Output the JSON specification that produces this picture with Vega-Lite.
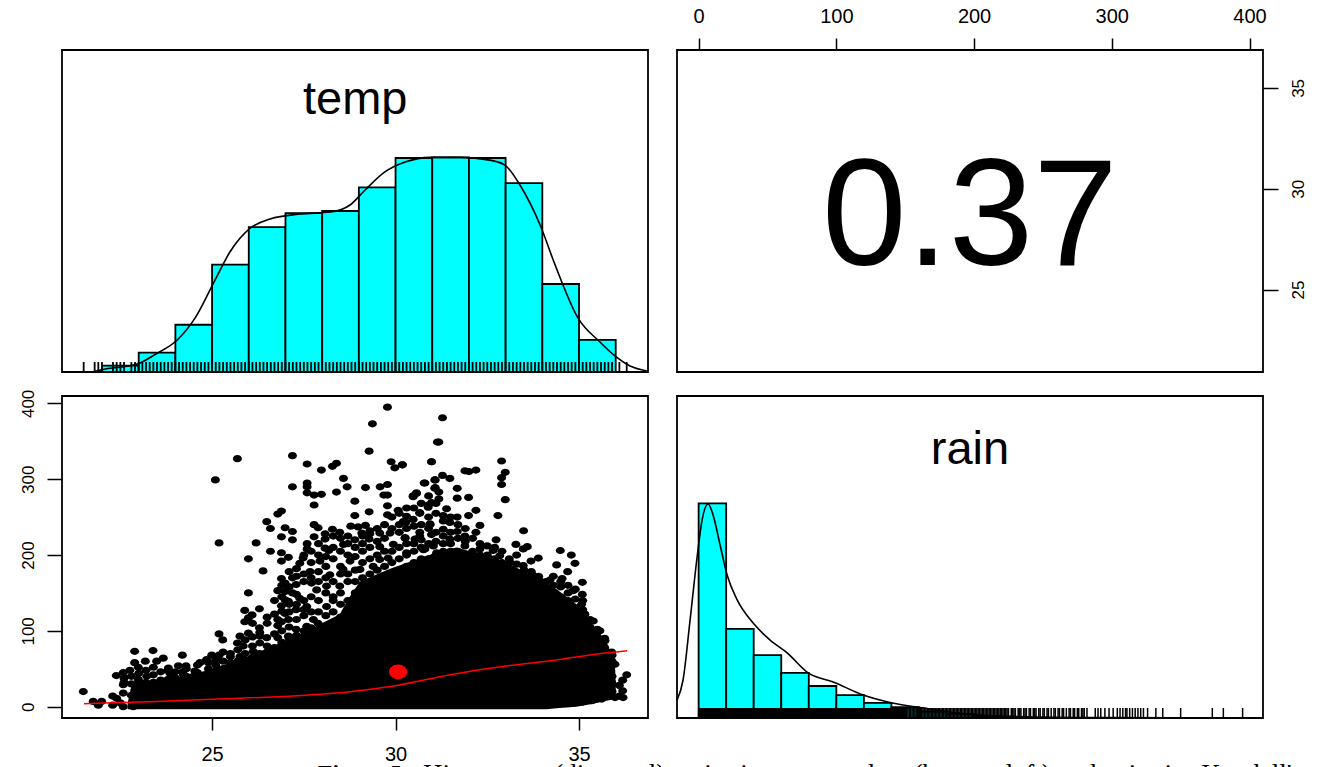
{
"$schema":"https://vega.github.io/schema/vega-lite/v6.json",
"background":"white",
"padding":{"left":18,"top":5,"right":0,"bottom":0},
"columns":2,
"bounds":"flush",
"spacing":{"column":29,"row":24},
"config":{"view":{"stroke":"#000","strokeWidth":1.8,"continuousWidth":586,"continuousHeight":322},
"axis":{"grid":false,"domain":false,"title":null,"labelFont":"Liberation Sans","labelColor":"#000","tickColor":"#000","tickWidth":1.5,"labelFontSize":20,"labelOverlap":false,"labelFlush":false}},
"datasets":{
"tempHist":[{"a":22,"b":23,"h":0.03},{"a":23,"b":24,"h":0.09},{"a":24,"b":25,"h":0.22},{"a":25,"b":26,"h":0.5},{"a":26,"b":27,"h":0.675},{"a":27,"b":28,"h":0.74},{"a":28,"b":29,"h":0.75},{"a":29,"b":30,"h":0.86},{"a":30,"b":31,"h":0.997},{"a":31,"b":32,"h":1.0},{"a":32,"b":33,"h":0.997},{"a":33,"b":34,"h":0.88},{"a":34,"b":35,"h":0.41},{"a":35,"b":36,"h":0.15}],
"tempDens":[{"t":21.8,"d":0.002},{"t":21.98,"d":0.01},{"t":22.96,"d":0.037},{"t":23.47,"d":0.084},{"t":24.05,"d":0.149},{"t":24.54,"d":0.252},{"t":25.08,"d":0.428},{"t":25.49,"d":0.56},{"t":26.04,"d":0.67},{"t":26.58,"d":0.713},{"t":27.4,"d":0.736},{"t":28.22,"d":0.745},{"t":28.76,"d":0.778},{"t":29.17,"d":0.848},{"t":29.71,"d":0.932},{"t":30.26,"d":0.978},{"t":30.94,"d":1.0},{"t":31.76,"d":1.0},{"t":32.57,"d":0.987},{"t":32.98,"d":0.964},{"t":33.39,"d":0.871},{"t":33.94,"d":0.685},{"t":34.35,"d":0.498},{"t":34.97,"d":0.252},{"t":35.57,"d":0.14},{"t":35.98,"d":0.075},{"t":36.39,"d":0.028},{"t":36.85,"d":0.005}],
"tempRug":[{"t":21.5},{"t":21.8},{"t":21.9},{"t":22.0},{"t":22.3},{"t":22.4},{"t":22.5},{"t":22.6},{"t":22.8},{"t":22.9},{"t":23.0},{"t":23.1},{"t":23.2},{"t":23.3},{"t":23.4},{"t":23.5},{"t":23.6},{"t":23.7},{"t":23.8},{"t":23.9},{"t":24.0},{"t":24.1},{"t":24.2},{"t":24.3},{"t":24.4},{"t":24.5},{"t":24.6},{"t":24.7},{"t":24.8},{"t":24.9},{"t":25.0},{"t":25.1},{"t":25.2},{"t":25.3},{"t":25.4},{"t":25.5},{"t":25.6},{"t":25.7},{"t":25.8},{"t":25.9},{"t":26.0},{"t":26.1},{"t":26.2},{"t":26.3},{"t":26.4},{"t":26.5},{"t":26.6},{"t":26.7},{"t":26.8},{"t":26.9},{"t":27.0},{"t":27.1},{"t":27.2},{"t":27.3},{"t":27.4},{"t":27.5},{"t":27.6},{"t":27.7},{"t":27.8},{"t":27.9},{"t":28.0},{"t":28.1},{"t":28.2},{"t":28.3},{"t":28.4},{"t":28.5},{"t":28.6},{"t":28.7},{"t":28.8},{"t":28.9},{"t":29.0},{"t":29.1},{"t":29.2},{"t":29.3},{"t":29.4},{"t":29.5},{"t":29.6},{"t":29.7},{"t":29.8},{"t":29.9},{"t":30.0},{"t":30.1},{"t":30.2},{"t":30.3},{"t":30.4},{"t":30.5},{"t":30.6},{"t":30.7},{"t":30.8},{"t":30.9},{"t":31.0},{"t":31.1},{"t":31.2},{"t":31.3},{"t":31.4},{"t":31.5},{"t":31.6},{"t":31.7},{"t":31.8},{"t":31.9},{"t":32.0},{"t":32.1},{"t":32.2},{"t":32.3},{"t":32.4},{"t":32.5},{"t":32.6},{"t":32.7},{"t":32.8},{"t":32.9},{"t":33.0},{"t":33.1},{"t":33.2},{"t":33.3},{"t":33.4},{"t":33.5},{"t":33.6},{"t":33.7},{"t":33.8},{"t":33.9},{"t":34.0},{"t":34.1},{"t":34.2},{"t":34.3},{"t":34.4},{"t":34.5},{"t":34.6},{"t":34.7},{"t":34.8},{"t":34.9},{"t":35.0},{"t":35.1},{"t":35.2},{"t":35.3},{"t":35.4},{"t":35.5},{"t":35.6},{"t":35.7},{"t":35.8},{"t":35.9},{"t":36.1},{"t":36.3}],
"rainHist":[{"a":0,"b":20,"h":1.0},{"a":20,"b":40,"h":0.415},{"a":40,"b":60,"h":0.293},{"a":60,"b":80,"h":0.21},{"a":80,"b":100,"h":0.149},{"a":100,"b":120,"h":0.107},{"a":120,"b":140,"h":0.07},{"a":140,"b":160,"h":0.05},{"a":160,"b":180,"h":0.03},{"a":180,"b":200,"h":0.018},{"a":200,"b":220,"h":0.01}],
"rainDens":[{"r":-15.6,"d":0.084},{"r":-11.3,"d":0.177},{"r":-6.2,"d":0.456},{"r":-1.1,"d":0.75},{"r":2.5,"d":0.922},{"r":6.9,"d":0.997},{"r":10.5,"d":0.946},{"r":15.6,"d":0.806},{"r":20.7,"d":0.666},{"r":28,"d":0.55},{"r":39.6,"d":0.442},{"r":51.9,"d":0.363},{"r":64.3,"d":0.303},{"r":79.5,"d":0.21},{"r":97.7,"d":0.168},{"r":119.5,"d":0.107},{"r":140.5,"d":0.07},{"r":163,"d":0.047},{"r":190,"d":0.023},{"r":219,"d":0.009},{"r":292,"d":0.002},{"r":409,"d":0}],
"rainRug":[{"r":0},{"r":0.5},{"r":1},{"r":1.5},{"r":2},{"r":2.5},{"r":3},{"r":3.5},{"r":4},{"r":4.5},{"r":5},{"r":5.5},{"r":6},{"r":6.5},{"r":7},{"r":7.5},{"r":8},{"r":8.5},{"r":9},{"r":9.5},{"r":10},{"r":10.5},{"r":11},{"r":11.5},{"r":12},{"r":12.5},{"r":13},{"r":13.5},{"r":14},{"r":14.5},{"r":15},{"r":15.5},{"r":16},{"r":16.5},{"r":17},{"r":17.5},{"r":18},{"r":18.5},{"r":19},{"r":19.5},{"r":20},{"r":20.5},{"r":21},{"r":21.5},{"r":22},{"r":22.5},{"r":23},{"r":23.5},{"r":24},{"r":24.5},{"r":25},{"r":25.5},{"r":26},{"r":26.5},{"r":27},{"r":27.5},{"r":28},{"r":28.5},{"r":29},{"r":29.5},{"r":30},{"r":30.5},{"r":31},{"r":31.5},{"r":32},{"r":32.5},{"r":33},{"r":33.5},{"r":34},{"r":34.5},{"r":35},{"r":35.5},{"r":36},{"r":36.5},{"r":37},{"r":37.5},{"r":38},{"r":38.5},{"r":39},{"r":39.5},{"r":40},{"r":40.5},{"r":41},{"r":41.5},{"r":42},{"r":42.5},{"r":43},{"r":43.5},{"r":44},{"r":44.5},{"r":45},{"r":45.5},{"r":46},{"r":46.5},{"r":47},{"r":47.5},{"r":48},{"r":48.5},{"r":49},{"r":49.5},{"r":50},{"r":50.5},{"r":51},{"r":51.5},{"r":52},{"r":52.5},{"r":53},{"r":53.5},{"r":54},{"r":54.5},{"r":55},{"r":55.5},{"r":56},{"r":56.5},{"r":57},{"r":57.5},{"r":58},{"r":58.5},{"r":59},{"r":59.5},{"r":60},{"r":60.5},{"r":61},{"r":61.5},{"r":62},{"r":62.5},{"r":63},{"r":63.5},{"r":64},{"r":64.5},{"r":65},{"r":65.5},{"r":66},{"r":66.5},{"r":67},{"r":67.5},{"r":68},{"r":68.5},{"r":69},{"r":69.5},{"r":70},{"r":70.5},{"r":71},{"r":71.5},{"r":72},{"r":72.5},{"r":73},{"r":73.5},{"r":74},{"r":74.5},{"r":75},{"r":75.5},{"r":76},{"r":76.5},{"r":77},{"r":77.5},{"r":78},{"r":78.5},{"r":79},{"r":79.5},{"r":80},{"r":80.5},{"r":81},{"r":81.5},{"r":82},{"r":82.5},{"r":83},{"r":83.5},{"r":84},{"r":84.5},{"r":85},{"r":85.5},{"r":86},{"r":86.5},{"r":87},{"r":87.5},{"r":88},{"r":88.5},{"r":89},{"r":89.5},{"r":90},{"r":90.5},{"r":91},{"r":91.5},{"r":92},{"r":92.5},{"r":93},{"r":93.5},{"r":94},{"r":94.5},{"r":95},{"r":95.5},{"r":96},{"r":96.5},{"r":97},{"r":97.5},{"r":98},{"r":98.5},{"r":99},{"r":99.5},{"r":100},{"r":100.5},{"r":101},{"r":101.5},{"r":102},{"r":102.5},{"r":103},{"r":103.5},{"r":104},{"r":104.5},{"r":105},{"r":105.5},{"r":106},{"r":106.5},{"r":107},{"r":107.5},{"r":108},{"r":108.5},{"r":109},{"r":109.5},{"r":110},{"r":110.5},{"r":111},{"r":111.5},{"r":112},{"r":112.5},{"r":113},{"r":113.5},{"r":114},{"r":114.5},{"r":115},{"r":115.5},{"r":116},{"r":116.5},{"r":117},{"r":117.5},{"r":118},{"r":118.5},{"r":119},{"r":119.5},{"r":120},{"r":120.5},{"r":121},{"r":121.5},{"r":122},{"r":122.5},{"r":123},{"r":123.5},{"r":124},{"r":124.5},{"r":125},{"r":125.5},{"r":126},{"r":126.5},{"r":127},{"r":127.5},{"r":128},{"r":128.5},{"r":129},{"r":129.5},{"r":130},{"r":130.5},{"r":131},{"r":131.5},{"r":132},{"r":132.5},{"r":133},{"r":133.5},{"r":134},{"r":134.5},{"r":135},{"r":135.5},{"r":136},{"r":136.5},{"r":137},{"r":137.5},{"r":138},{"r":138.5},{"r":139},{"r":139.5},{"r":140},{"r":140.5},{"r":141},{"r":141.5},{"r":142},{"r":142.5},{"r":143},{"r":143.5},{"r":144},{"r":144.5},{"r":145},{"r":145.5},{"r":146},{"r":146.5},{"r":147},{"r":147.5},{"r":148},{"r":148.5},{"r":149},{"r":149.5},{"r":150},{"r":151},{"r":152},{"r":153},{"r":154},{"r":155},{"r":156},{"r":157},{"r":158},{"r":159},{"r":160},{"r":161},{"r":162},{"r":163},{"r":164},{"r":165},{"r":166},{"r":167},{"r":168},{"r":169},{"r":170},{"r":171},{"r":172},{"r":173},{"r":174},{"r":175},{"r":176},{"r":177},{"r":178},{"r":179},{"r":180},{"r":181},{"r":182},{"r":183},{"r":184},{"r":185},{"r":186},{"r":187},{"r":188},{"r":189},{"r":190},{"r":191},{"r":192},{"r":193},{"r":194},{"r":195},{"r":196},{"r":197},{"r":198},{"r":199},{"r":200},{"r":201},{"r":202},{"r":203},{"r":204},{"r":205},{"r":206},{"r":207},{"r":208},{"r":209},{"r":210},{"r":211},{"r":212},{"r":213},{"r":214},{"r":215},{"r":216},{"r":217},{"r":218},{"r":219},{"r":220},{"r":221},{"r":222},{"r":223},{"r":224},{"r":225},{"r":227},{"r":228},{"r":229},{"r":230},{"r":232},{"r":233},{"r":234},{"r":236},{"r":237},{"r":238},{"r":240},{"r":241},{"r":243},{"r":244},{"r":245},{"r":247},{"r":248},{"r":250},{"r":251},{"r":253},{"r":254},{"r":256},{"r":258},{"r":259},{"r":261},{"r":262},{"r":264},{"r":265},{"r":267},{"r":269},{"r":270},{"r":272},{"r":273},{"r":275},{"r":276},{"r":278},{"r":279},{"r":280},{"r":282},{"r":288},{"r":290},{"r":292},{"r":295},{"r":298},{"r":301},{"r":304},{"r":306},{"r":308},{"r":310},{"r":311},{"r":313},{"r":315},{"r":317},{"r":319},{"r":321},{"r":323},{"r":326},{"r":332},{"r":337},{"r":350},{"r":373},{"r":381},{"r":395}],
"points":[{"t":29.78,"r":395},{"t":29.37,"r":373},{"t":25.69,"r":327},{"t":25.09,"r":299},{"t":25.19,"r":216},{"t":27.19,"r":331},{"t":27.59,"r":320},{"t":27.98,"r":312},{"t":28.28,"r":317},{"t":28.39,"r":321},{"t":29.28,"r":337},{"t":29.88,"r":323},{"t":29.98,"r":315},{"t":30.18,"r":319},{"t":30.98,"r":323},{"t":31.14,"r":349},{"t":28.58,"r":301},{"t":27.19,"r":290},{"t":27.59,"r":295},{"t":27.59,"r":290},{"t":27.59,"r":282},{"t":27.78,"r":279},{"t":27.98,"r":280},{"t":28.39,"r":283},{"t":28.68,"r":290},{"t":29.18,"r":289},{"t":29.58,"r":290},{"t":29.78,"r":293},{"t":29.68,"r":279},{"t":29.78,"r":279},{"t":29.78,"r":265},{"t":29.78,"r":253},{"t":28.89,"r":271},{"t":28.89,"r":252},{"t":29.28,"r":257},{"t":27.78,"r":266},{"t":26.89,"r":258},{"t":26.79,"r":254},{"t":26.49,"r":244},{"t":26.59,"r":235},{"t":26.99,"r":236},{"t":27.19,"r":231},{"t":26.89,"r":224},{"t":27.19,"r":220},{"t":27.78,"r":240},{"t":27.89,"r":236},{"t":27.78,"r":224},{"t":28.08,"r":228},{"t":28.08,"r":221},{"t":28.28,"r":234},{"t":28.48,"r":230},{"t":28.78,"r":238},{"t":28.98,"r":237},{"t":29.18,"r":239},{"t":29.08,"r":229},{"t":28.89,"r":220},{"t":29.28,"r":221},{"t":28.58,"r":214},{"t":28.08,"r":209},{"t":28.18,"r":206},{"t":27.59,"r":215},{"t":27.59,"r":208},{"t":26.2,"r":216},{"t":26.59,"r":205},{"t":26.89,"r":203},{"t":27.08,"r":197},{"t":26.89,"r":192},{"t":27.48,"r":196},{"t":27.39,"r":189},{"t":25.99,"r":195},{"t":26.39,"r":179},{"t":25.99,"r":150},{"t":26.29,"r":129},{"t":25.89,"r":127},{"t":26.09,"r":121},{"t":25.89,"r":112},{"t":25.99,"r":117},{"t":25.19,"r":96},{"t":25.29,"r":88},{"t":26.89,"r":169},{"t":26.99,"r":163},{"t":27.19,"r":170},{"t":27.29,"r":161},{"t":26.79,"r":153},{"t":26.99,"r":152},{"t":27.19,"r":150},{"t":27.39,"r":143},{"t":26.99,"r":141},{"t":27.08,"r":139},{"t":26.89,"r":133},{"t":27.29,"r":128},{"t":27.58,"r":132},{"t":26.99,"r":123},{"t":26.79,"r":115},{"t":26.89,"r":112},{"t":26.79,"r":107},{"t":27.08,"r":115},{"t":26.29,"r":104},{"t":25.99,"r":97},{"t":25.76,"r":93},{"t":26.49,"r":91},{"t":26.3,"r":93},{"t":25.69,"r":84},{"t":25.85,"r":80},{"t":26.79,"r":91},{"t":27.08,"r":93},{"t":27.29,"r":102},{"t":27.29,"r":86},{"t":27.58,"r":106},{"t":27.76,"r":115},{"t":27.89,"r":110},{"t":27.58,"r":93},{"t":27.85,"r":95},{"t":28.12,"r":132},{"t":28.3,"r":145},{"t":28.48,"r":159},{"t":28.12,"r":159},{"t":27.85,"r":154},{"t":27.71,"r":163},{"t":27.67,"r":178},{"t":27.94,"r":192},{"t":28.21,"r":174},{"t":28.57,"r":181},{"t":28.76,"r":192},{"t":29.03,"r":181},{"t":29.39,"r":185},{"t":29.57,"r":194},{"t":29.8,"r":196},{"t":29.94,"r":214},{"t":30.26,"r":222},{"t":29.57,"r":211},{"t":29.57,"r":229},{"t":29.85,"r":229},{"t":30.21,"r":244},{"t":30.3,"r":251},{"t":30.66,"r":255},{"t":30.07,"r":259},{"t":30.48,"r":278},{"t":30.57,"r":282},{"t":30.89,"r":266},{"t":31.07,"r":299},{"t":30.8,"r":295},{"t":31.07,"r":288},{"t":30.94,"r":240},{"t":30.66,"r":225},{"t":30.98,"r":227},{"t":30.76,"r":207},{"t":31.12,"r":203},{"t":30.3,"r":203},{"t":22.89,"r":73},{"t":23.39,"r":74},{"t":24.19,"r":68},{"t":23.67,"r":64},{"t":23.49,"r":60},{"t":23.18,"r":60},{"t":22.89,"r":58},{"t":22.99,"r":52},{"t":22.58,"r":45},{"t":22.39,"r":41},{"t":22.76,"r":48},{"t":23.4,"r":52},{"t":23.81,"r":51},{"t":24.08,"r":54},{"t":24.29,"r":54},{"t":23.85,"r":44},{"t":24.22,"r":42},{"t":24.53,"r":47},{"t":24.67,"r":58},{"t":24.99,"r":68},{"t":25.19,"r":68},{"t":24.85,"r":62},{"t":25.76,"r":66},{"t":26.12,"r":73},{"t":23.22,"r":40},{"t":22.58,"r":29},{"t":22.58,"r":18},{"t":22.99,"r":36},{"t":21.49,"r":20},{"t":21.76,"r":7},{"t":21.99,"r":7},{"t":22.29,"r":14},{"t":22.4,"r":11},{"t":21.9,"r":2},{"t":22.29,"r":2},{"t":22.58,"r":0},{"t":22.85,"r":0},{"t":22.9,"r":22},{"t":23.4,"r":22},{"t":23.49,"r":31},{"t":23.94,"r":36},{"t":24.49,"r":40},{"t":22.8,"r":15},{"t":23.0,"r":5},{"t":22.5,"r":5},{"t":31.28,"r":381},{"t":31.18,"r":349},{"t":30.98,"r":323},{"t":30.19,"r":319},{"t":32.89,"r":324},{"t":32.99,"r":309},{"t":32.89,"r":302},{"t":32.89,"r":293},{"t":32.99,"r":273},{"t":32.19,"r":312},{"t":31.89,"r":311},{"t":32.0,"r":310},{"t":31.48,"r":301},{"t":31.28,"r":305},{"t":31.08,"r":299},{"t":30.78,"r":295},{"t":31.68,"r":288},{"t":31.68,"r":275},{"t":31.99,"r":276},{"t":31.18,"r":283},{"t":31.18,"r":274},{"t":31.08,"r":289},{"t":30.57,"r":281},{"t":30.48,"r":277},{"t":30.98,"r":269},{"t":30.89,"r":263},{"t":31.39,"r":261},{"t":32.19,"r":259},{"t":31.68,"r":250},{"t":31.99,"r":252},{"t":32.79,"r":252},{"t":32.3,"r":239},{"t":32.19,"r":230},{"t":31.68,"r":231},{"t":33.49,"r":232},{"t":31.89,"r":225},{"t":32.74,"r":220},{"t":33.28,"r":214},{"t":33.59,"r":211},{"t":33.48,"r":208},{"t":34.49,"r":206},{"t":34.79,"r":200},{"t":34.89,"r":189},{"t":34.39,"r":187},{"t":34.69,"r":178},{"t":35.09,"r":164},{"t":33.89,"r":196},{"t":33.69,"r":192},{"t":33.48,"r":186},{"t":33.73,"r":174},{"t":34.54,"r":169},{"t":34.21,"r":167},{"t":33.93,"r":166},{"t":35.09,"r":148},{"t":34.84,"r":153},{"t":35.07,"r":135},{"t":35.16,"r":122},{"t":35.39,"r":113},{"t":35.57,"r":100},{"t":35.71,"r":87},{"t":35.89,"r":72},{"t":35.98,"r":56},{"t":36.3,"r":42},{"t":36.19,"r":35},{"t":36.19,"r":21},{"t":36.2,"r":12},{"t":35.98,"r":12},{"t":35.89,"r":32},{"t":35.84,"r":23},{"t":35.8,"r":45},{"t":32.66,"r":206},{"t":32.57,"r":195},{"t":32.84,"r":199},{"t":33.12,"r":190},{"t":32.3,"r":208},{"t":31.89,"r":212},{"t":31.48,"r":221},{"t":31.03,"r":212},{"t":30.8,"r":208},{"t":30.66,"r":230},{"t":30.53,"r":221},{"t":30.26,"r":223},{"t":30.48,"r":247},{"t":30.28,"r":243},{"t":30.94,"r":241},{"t":31.3,"r":234},{"t":31.48,"r":243},{"t":30.66,"r":256},{"t":34.8,"r":8},{"t":35.07,"r":6},{"t":35.34,"r":8},{"t":35.62,"r":10},
{"t":24.3,"r":40},{"t":24.3,"r":50},{"t":24.6,"r":45},{"t":24.6,"r":55},{"t":24.9,"r":50},{"t":24.9,"r":58},{"t":25.1,"r":55},{"t":25.1,"r":62},{"t":25.3,"r":50},{"t":25.3,"r":60},{"t":25.3,"r":72},{"t":25.5,"r":58},{"t":25.5,"r":66},{"t":25.5,"r":70},{"t":25.7,"r":60},{"t":25.7,"r":75},{"t":25.9,"r":62},{"t":25.9,"r":70},{"t":25.9,"r":88},{"t":26.1,"r":65},{"t":26.1,"r":80},{"t":26.1,"r":92},{"t":26.1,"r":110},{"t":26.3,"r":70},{"t":26.3,"r":84},{"t":26.3,"r":98},{"t":26.5,"r":72},{"t":26.5,"r":80},{"t":26.5,"r":110},{"t":26.5,"r":118},{"t":26.7,"r":68},{"t":26.7,"r":78},{"t":26.7,"r":96},{"t":26.7,"r":122},{"t":26.7,"r":140},{"t":26.9,"r":75},{"t":26.9,"r":85},{"t":26.9,"r":100},{"t":26.9,"r":126},{"t":26.9,"r":145},{"t":26.9,"r":160},{"t":27.1,"r":78},{"t":27.1,"r":90},{"t":27.1,"r":105},{"t":27.1,"r":125},{"t":27.1,"r":135},{"t":27.1,"r":158},{"t":27.1,"r":178},{"t":27.3,"r":80},{"t":27.3,"r":94},{"t":27.3,"r":115},{"t":27.3,"r":135},{"t":27.3,"r":148},{"t":27.3,"r":172},{"t":27.3,"r":182},{"t":27.5,"r":85},{"t":27.5,"r":100},{"t":27.5,"r":120},{"t":27.5,"r":128},{"t":27.5,"r":140},{"t":27.5,"r":165},{"t":27.5,"r":175},{"t":27.5,"r":200},{"t":27.7,"r":88},{"t":27.7,"r":104},{"t":27.7,"r":125},{"t":27.7,"r":145},{"t":27.7,"r":170},{"t":27.7,"r":190},{"t":27.7,"r":205},{"t":27.9,"r":88},{"t":27.9,"r":100},{"t":27.9,"r":125},{"t":27.9,"r":140},{"t":27.9,"r":165},{"t":27.9,"r":178},{"t":27.9,"r":200},{"t":27.9,"r":215},{"t":28.1,"r":90},{"t":28.1,"r":105},{"t":28.1,"r":120},{"t":28.1,"r":150},{"t":28.1,"r":170},{"t":28.1,"r":185},{"t":28.1,"r":198},{"t":28.3,"r":95},{"t":28.3,"r":110},{"t":28.3,"r":125},{"t":28.3,"r":140},{"t":28.3,"r":165},{"t":28.3,"r":195},{"t":28.3,"r":210},{"t":28.3,"r":225},{"t":28.5,"r":100},{"t":28.5,"r":118},{"t":28.5,"r":135},{"t":28.5,"r":150},{"t":28.5,"r":175},{"t":28.5,"r":185},{"t":28.5,"r":205},{"t":28.5,"r":222},{"t":28.7,"r":125},{"t":28.7,"r":140},{"t":28.7,"r":165},{"t":28.7,"r":175},{"t":28.7,"r":200},{"t":28.7,"r":215},{"t":28.7,"r":225},{"t":28.9,"r":150},{"t":28.9,"r":165},{"t":28.9,"r":180},{"t":28.9,"r":198},{"t":28.9,"r":210},{"t":29.1,"r":155},{"t":29.1,"r":170},{"t":29.1,"r":190},{"t":29.1,"r":205},{"t":29.1,"r":215},{"t":29.1,"r":225},{"t":29.3,"r":165},{"t":29.3,"r":175},{"t":29.3,"r":195},{"t":29.3,"r":210},{"t":29.3,"r":228},{"t":29.3,"r":232},{"t":29.5,"r":165},{"t":29.5,"r":180},{"t":29.5,"r":200},{"t":29.5,"r":218},{"t":29.5,"r":235},{"t":29.7,"r":170},{"t":29.7,"r":185},{"t":29.7,"r":205},{"t":29.7,"r":222},{"t":29.7,"r":240},{"t":29.9,"r":175},{"t":29.9,"r":190},{"t":29.9,"r":205},{"t":29.9,"r":235},{"t":29.9,"r":250},{"t":30.1,"r":180},{"t":30.1,"r":195},{"t":30.1,"r":210},{"t":30.1,"r":230},{"t":30.1,"r":240},{"t":30.1,"r":255},{"t":30.3,"r":185},{"t":30.3,"r":200},{"t":30.3,"r":215},{"t":30.3,"r":235},{"t":30.3,"r":262},{"t":30.5,"r":190},{"t":30.5,"r":205},{"t":30.5,"r":215},{"t":30.5,"r":238},{"t":30.5,"r":262},{"t":30.7,"r":195},{"t":30.7,"r":210},{"t":30.7,"r":220},{"t":30.7,"r":240},{"t":30.7,"r":268},{"t":30.9,"r":195},{"t":30.9,"r":215},{"t":30.9,"r":235},{"t":30.9,"r":250},{"t":30.9,"r":278},{"t":31.1,"r":200},{"t":31.1,"r":218},{"t":31.1,"r":230},{"t":31.1,"r":255},{"t":31.1,"r":268},{"t":31.3,"r":205},{"t":31.3,"r":215},{"t":31.3,"r":225},{"t":31.3,"r":245},{"t":31.3,"r":252},{"t":31.5,"r":205},{"t":31.5,"r":215},{"t":31.5,"r":230},{"t":31.5,"r":250},{"t":31.7,"r":205},{"t":31.7,"r":222},{"t":31.7,"r":240},{"t":31.9,"r":200},{"t":31.9,"r":218},{"t":31.9,"r":235},{"t":32.1,"r":195},{"t":32.1,"r":205},{"t":32.1,"r":222},{"t":32.3,"r":190},{"t":32.3,"r":200},{"t":32.3,"r":215},{"t":32.5,"r":185},{"t":32.5,"r":200},{"t":32.5,"r":212},{"t":32.7,"r":182},{"t":32.7,"r":195},{"t":32.7,"r":210},{"t":32.9,"r":180},{"t":32.9,"r":190},{"t":32.9,"r":205},{"t":33.1,"r":178},{"t":33.1,"r":195},{"t":33.3,"r":175},{"t":33.3,"r":188},{"t":33.3,"r":200},{"t":33.5,"r":170},{"t":33.5,"r":180},{"t":33.7,"r":165},{"t":33.7,"r":178},{"t":33.9,"r":160},{"t":33.9,"r":172},{"t":34.1,"r":155},{"t":34.1,"r":165},{"t":34.3,"r":150},{"t":34.3,"r":160},{"t":34.3,"r":172},{"t":34.5,"r":145},{"t":34.5,"r":158},{"t":34.5,"r":165},{"t":34.7,"r":140},{"t":34.7,"r":150},{"t":34.7,"r":160},{"t":34.9,"r":130},{"t":34.9,"r":142},{"t":34.9,"r":155},{"t":35.1,"r":118},{"t":35.1,"r":128},{"t":35.1,"r":140},{"t":35.3,"r":105},{"t":35.3,"r":115},{"t":35.5,"r":92},{"t":35.5,"r":102},{"t":35.7,"r":78},{"t":35.7,"r":90},{"t":35.9,"r":60},{"t":35.9,"r":68},{"t":35.9,"r":40},{"t":35.9,"r":20},{"t":36.1,"r":14},{"t":36.1,"r":28},{"t":22.6,"r":32},{"t":22.6,"r":38},{"t":22.8,"r":30},{"t":22.8,"r":40},{"t":23.0,"r":32},{"t":23.0,"r":44},{"t":23.2,"r":32},{"t":23.2,"r":48},{"t":23.4,"r":32},{"t":23.4,"r":42},{"t":23.6,"r":35},{"t":23.6,"r":46},{"t":23.8,"r":36},{"t":23.8,"r":48},{"t":24.0,"r":38},{"t":24.0,"r":46},{"t":24.2,"r":36},{"t":24.2,"r":46}],
"mass":[{"t":22.7,"hi":5,"lo":-3.5},{"t":22.81,"hi":29,"lo":-3.5},{"t":23.49,"hi":31,"lo":-3.5},{"t":24.22,"hi":38,"lo":-3.5},{"t":24.85,"hi":48,"lo":-3.5},{"t":25.76,"hi":62,"lo":-3.5},{"t":26.67,"hi":80,"lo":-3.5},{"t":27.58,"hi":100,"lo":-3.5},{"t":28.48,"hi":122,"lo":-3.5},{"t":28.71,"hi":142,"lo":-3.5},{"t":29.03,"hi":165,"lo":-3.5},{"t":29.85,"hi":182,"lo":-3.5},{"t":31.21,"hi":205,"lo":-3.5},{"t":31.66,"hi":210,"lo":-3.5},{"t":32.39,"hi":200,"lo":-3.5},{"t":33.12,"hi":188,"lo":-3.5},{"t":33.75,"hi":172,"lo":-3.5},{"t":34.12,"hi":163,"lo":-3.5},{"t":34.39,"hi":155,"lo":-2},{"t":34.93,"hi":135,"lo":0},{"t":35.39,"hi":107,"lo":4},{"t":35.75,"hi":85,"lo":8},{"t":35.98,"hi":58,"lo":10},{"t":36.0,"hi":28,"lo":10}],
"lowess":[{"t":21.51,"r":4},{"t":23.31,"r":6.6},{"t":25,"r":9.9},{"t":27.32,"r":14.5},{"t":28.76,"r":19.8},{"t":29.99,"r":27.7},{"t":31.49,"r":42.2},{"t":32.85,"r":52.7},{"t":34.43,"r":62},{"t":35.57,"r":69.9},{"t":36.31,"r":73.8}]
},
"concat":[
{"width":586,"height":322,"layer":[
 {"data":{"name":"tempHist"},"mark":{"type":"bar","fill":"#00ffff","stroke":"#000","strokeWidth":1.8},"encoding":{"x":{"field":"a","type":"quantitative","scale":{"domain":[20.91,36.88],"nice":false,"zero":false},"axis":null},"x2":{"field":"b"},"y":{"field":"h","type":"quantitative","scale":{"domain":[0,1.5],"nice":false},"axis":null},"y2":{"datum":0}}},
 {"data":{"name":"tempDens"},"mark":{"type":"line","color":"#000","strokeWidth":1.6,"interpolate":"monotone"},"encoding":{"x":{"field":"t","type":"quantitative"},"y":{"field":"d","type":"quantitative"}}},
 {"data":{"name":"tempRug"},"mark":{"type":"rule","color":"#000","strokeWidth":1.8},"encoding":{"x":{"field":"t","type":"quantitative"},"y":{"datum":0.0466},"y2":{"datum":0}}},
 {"data":{"values":[{"t":28.9,"h":1.267,"label":"temp"}]},"mark":{"type":"text","font":"Liberation Sans","fontSize":47,"color":"#000","baseline":"middle"},"encoding":{"x":{"field":"t","type":"quantitative"},"y":{"field":"h","type":"quantitative"},"text":{"field":"label"}}}
]},
{"width":586,"height":322,"data":{"values":[{"r":197,"t":28.5,"label":"0.37"}]},"mark":{"type":"text","font":"Liberation Sans","fontSize":152,"color":"#000","baseline":"middle"},"encoding":{"x":{"field":"r","type":"quantitative","scale":{"domain":[-15.7,409.8],"nice":false,"zero":false},"axis":{"orient":"top","values":[0,100,200,300,400],"tickSize":12,"labelPadding":12}},"y":{"field":"t","type":"quantitative","scale":{"domain":[20.91,36.88],"nice":false,"zero":false},"axis":{"orient":"right","values":[25,30,35],"tickSize":15,"labelPadding":12,"labelAngle":-90,"labelAlign":"center","labelBaseline":"top","labelFontSize":17}},"text":{"field":"label"}}},
{"width":586,"height":322,"layer":[
 {"data":{"name":"mass"},"mark":{"type":"area","color":"#000"},"encoding":{"x":{"field":"t","type":"quantitative","scale":{"domain":[20.91,36.88],"nice":false,"zero":false},"axis":{"orient":"bottom","values":[25,30,35],"tickSize":12,"labelPadding":14}},"y":{"field":"hi","type":"quantitative","scale":{"domain":[-14.9,409.7],"nice":false,"zero":false},"axis":{"orient":"left","values":[0,100,200,300,400],"tickSize":15,"labelPadding":10,"labelAngle":-90,"labelAlign":"center","labelBaseline":"bottom","labelFontSize":17}},"y2":{"field":"lo"}}},
 {"data":{"name":"points"},"mark":{"type":"point","filled":true,"color":"#000","opacity":1,"size":81,"shape":"M-1,0A1,0.8 0 1 1 1,0A1,0.8 0 1 1 -1,0Z"},"encoding":{"x":{"field":"t","type":"quantitative"},"y":{"field":"r","type":"quantitative"}}},
 {"data":{"name":"lowess"},"mark":{"type":"line","color":"#ff0000","strokeWidth":1.5,"interpolate":"monotone"},"encoding":{"x":{"field":"t","type":"quantitative"},"y":{"field":"r","type":"quantitative"}}},
 {"data":{"values":[{"t":30.07,"r":46}]},"mark":{"type":"point","filled":true,"color":"#ff0000","opacity":1,"size":335,"shape":"M-1,0A1,0.8 0 1 1 1,0A1,0.8 0 1 1 -1,0Z"},"encoding":{"x":{"field":"t","type":"quantitative"},"y":{"field":"r","type":"quantitative"}}},
 {"data":{"values":[{"t":27.89,"r":-72.5,"label":"Figure 5:"}]},"mark":{"type":"text","font":"Liberation Serif","fontWeight":"bold","fontSize":23.5,"color":"#000","align":"left","baseline":"top"},"encoding":{"x":{"field":"t","type":"quantitative"},"y":{"field":"r","type":"quantitative"},"text":{"field":"label"}}},
 {"data":{"values":[{"t":30.75,"r":-72.5,"label":"Histograms (diagonal), pairwise scatter plots (bottom left) and pairwise Kendall's"}]},"mark":{"type":"text","font":"Liberation Serif","fontSize":27,"color":"#000","align":"left","baseline":"top"},"encoding":{"x":{"field":"t","type":"quantitative"},"y":{"field":"r","type":"quantitative"},"text":{"field":"label"}}}
]},
{"width":586,"height":322,"layer":[
 {"data":{"name":"rainHist"},"mark":{"type":"bar","fill":"#00ffff","stroke":"#000","strokeWidth":1.8},"encoding":{"x":{"field":"a","type":"quantitative","scale":{"domain":[-15.7,409.8],"nice":false,"zero":false},"axis":null},"x2":{"field":"b"},"y":{"field":"h","type":"quantitative","scale":{"domain":[0,1.5],"nice":false},"axis":null},"y2":{"datum":0}}},
 {"data":{"name":"rainDens"},"mark":{"type":"line","color":"#000","strokeWidth":1.6,"interpolate":"monotone"},"encoding":{"x":{"field":"r","type":"quantitative"},"y":{"field":"d","type":"quantitative"}}},
 {"data":{"name":"rainRug"},"mark":{"type":"rule","color":"#000","strokeWidth":1.5},"encoding":{"x":{"field":"r","type":"quantitative"},"y":{"datum":0.0466},"y2":{"datum":0}}},
 {"data":{"values":[{"r":197,"h":1.248,"label":"rain"}]},"mark":{"type":"text","font":"Liberation Sans","fontSize":47,"color":"#000","baseline":"middle"},"encoding":{"x":{"field":"r","type":"quantitative"},"y":{"field":"h","type":"quantitative"},"text":{"field":"label"}}}
]}
]
}
